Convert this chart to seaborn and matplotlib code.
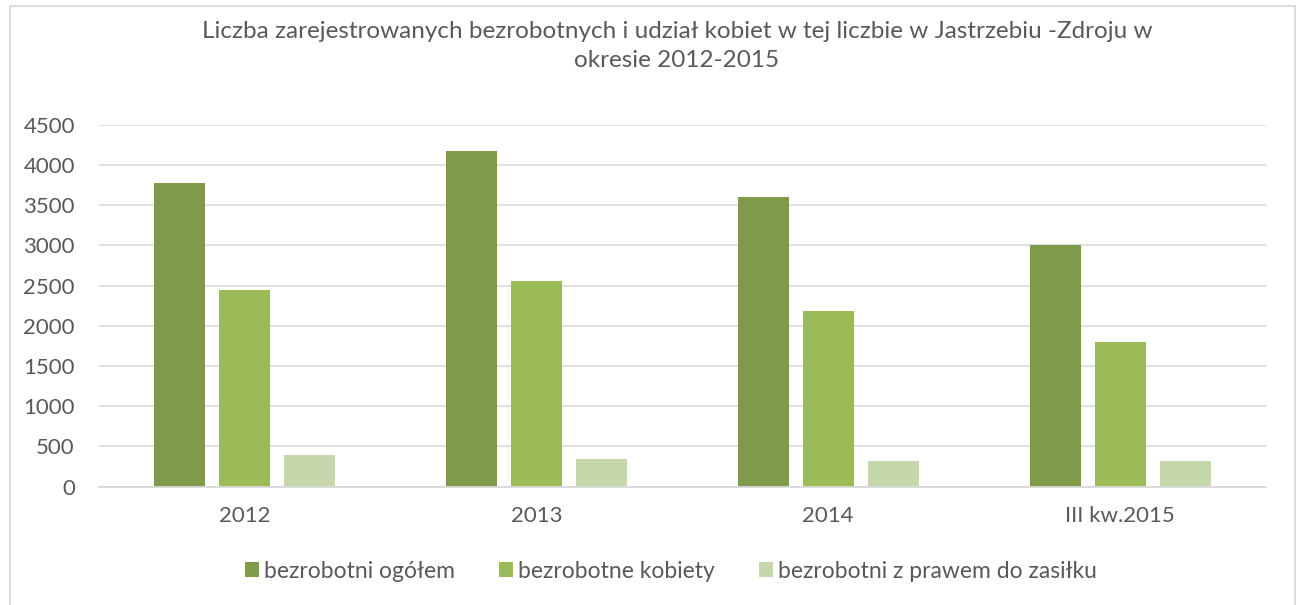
import matplotlib
matplotlib.use("Agg")
import matplotlib.pyplot as plt
import seaborn as sns
import pandas as pd
from matplotlib.patches import Rectangle

categories = ["2012", "2013", "2014", "III kw.2015"]
ogolem = [3780, 4170, 3600, 3005]
kobiety = [2450, 2560, 2185, 1800]
zasilek = [395, 345, 325, 315]
series_names = ["bezrobotni ogółem", "bezrobotne kobiety", "bezrobotni z prawem do zasiłku"]
colors = ["#7F9A48", "#9BBB59", "#C6D7AB"]
yticks = [0, 500, 1000, 1500, 2000, 2500, 3000, 3500, 4000, 4500]
title = "Liczba zarejestrowanych bezrobotnych i udział kobiet w tej liczbie w Jastrzebiu -Zdroju w\nokresie 2012-2015"

rows = []
for name, vals in zip(series_names, [ogolem, kobiety, zasilek]):
    for c, v in zip(categories, vals):
        rows.append({"kat": c, "seria": name, "wartosc": v})
df = pd.DataFrame(rows)

sns.set_theme(style="white")
plt.rcParams["font.family"] = ["Lato", "DejaVu Sans"]
text_color = "#595959"

fig = plt.figure(figsize=(13, 6.05), dpi=100)
ax = fig.add_axes([98.5 / 1300, 1 - 486.7 / 605, (1266 - 98.5) / 1300, (486.7 - 124.7) / 605])

sns.barplot(data=df, x="kat", y="wartosc", hue="seria", order=categories,
            hue_order=series_names, palette=colors, width=0.668, gap=0.215,
            saturation=1, ax=ax, legend=True, edgecolor="none")

ax.set_ylim(0, 4500)
ax.set_xlim(-0.5, 3.5)
ax.set_yticks(yticks)
ax.set_yticklabels([str(t) for t in yticks])
ax.yaxis.grid(True, color="#D9D9D9", linewidth=1.1)
ax.set_axisbelow(True)
for s in ["top", "right", "left"]:
    ax.spines[s].set_visible(False)
ax.spines["bottom"].set_color("#D9D9D9")
ax.spines["bottom"].set_linewidth(1.3)
ax.set_xlabel("")
ax.set_ylabel("")
ax.tick_params(axis="both", length=0, labelsize=16, colors=text_color)
ax.tick_params(axis="y", pad=17)
ax.tick_params(axis="x", pad=14)

handles, labels = ax.get_legend_handles_labels()
ax.legend_.remove()
fig.legend(handles, labels, loc="center", bbox_to_anchor=(671 / 1300, 1 - 571 / 605),
           ncol=3, frameon=False, fontsize=16.5, labelcolor=text_color,
           handlelength=0.61, handleheight=0.61, handletextpad=0.2, columnspacing=1.95)

fig.text(677 / 1300, 1 - 46 / 605, title, ha="center", va="center", fontsize=17.5,
         color=text_color, linespacing=1.45)

fig.patches.append(Rectangle((10 / 1300, -0.02), 1285 / 1300, 1.02 - 6 / 605,
                             transform=fig.transFigure, fill=False,
                             edgecolor="#D9D9D9", linewidth=1.3))

fig.savefig("out.png", dpi=100)
